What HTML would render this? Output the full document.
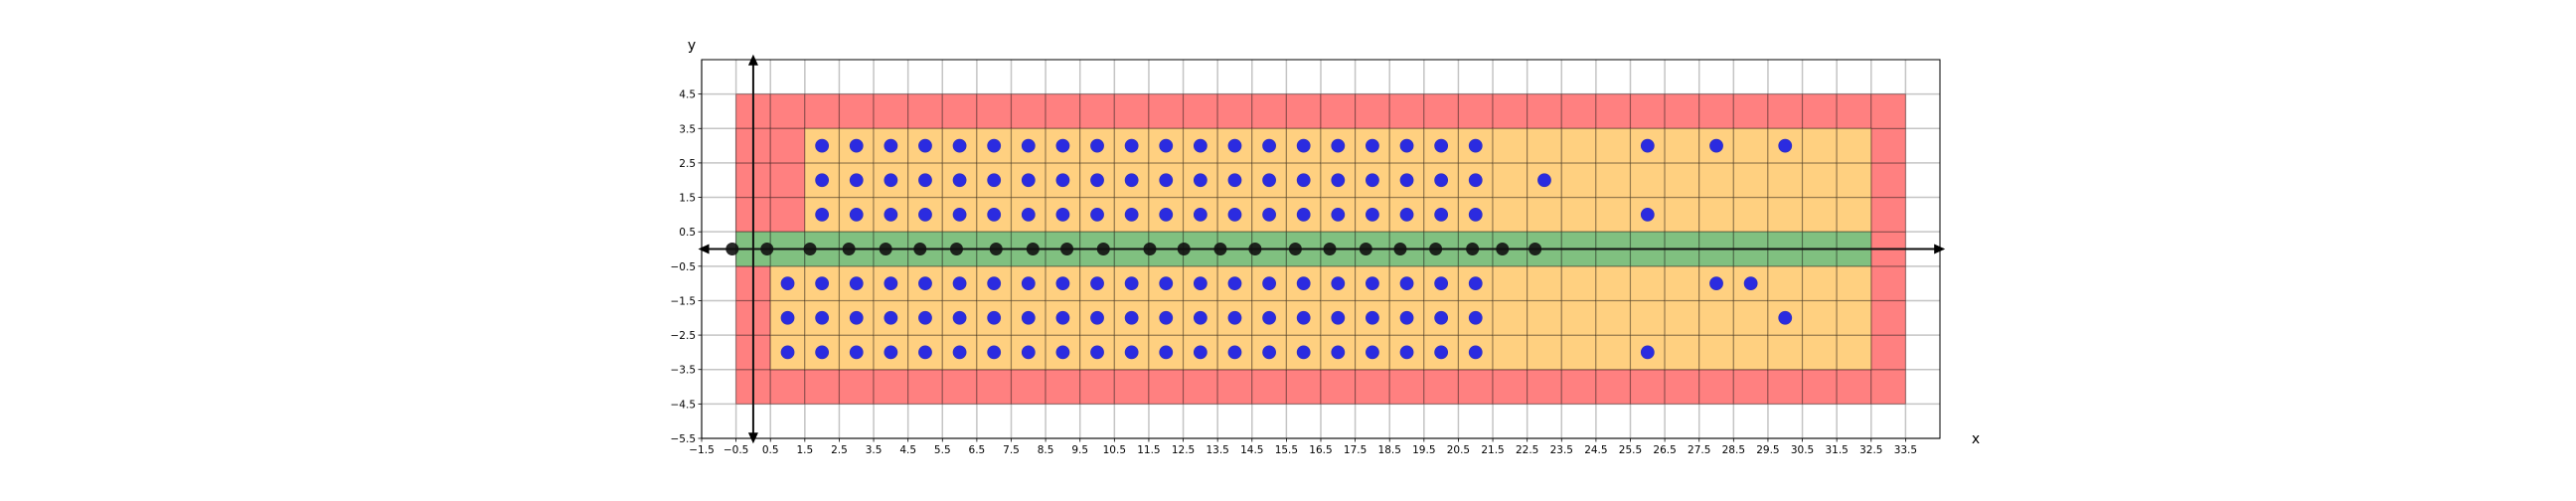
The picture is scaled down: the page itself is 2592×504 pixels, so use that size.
<!DOCTYPE html>
<html><head><meta charset="utf-8"><style>
html,body{margin:0;padding:0;background:#fff;}
svg{display:block;font-family:"DejaVu Sans","Liberation Sans",sans-serif;}
</style></head><body>
<svg id="chart" width="2592" height="504" viewBox="0 0 2592 504" xmlns="http://www.w3.org/2000/svg"></svg>
<script>
const xTicks=[-1.5,-0.5,0.5,1.5,2.5,3.5,4.5,5.5,6.5,7.5,8.5,9.5,10.5,11.5,12.5,13.5,14.5,15.5,16.5,17.5,18.5,19.5,20.5,21.5,22.5,23.5,24.5,25.5,26.5,27.5,28.5,29.5,30.5,31.5,32.5,33.5];
const yTicks=[-5.5,-4.5,-3.5,-2.5,-1.5,-0.5,0.5,1.5,2.5,3.5,4.5];
const regionX0=[-0.5,-0.5,1.5,0.5,-0.5];
const regionX1=[33.5,1.5,32.5,32.5,32.5];
const regionY0=[-4.5,0.5,0.5,-3.5,-0.5];
const regionY1=[4.5,3.5,3.5,-0.5,0.5];
const regionKind=["red","red","orange","orange","green"];
const axisPointsX=[-0.61,0.40,1.65,2.78,3.85,4.85,5.91,7.06,8.13,9.12,10.18,11.53,12.52,13.58,14.59,15.76,16.76,17.81,18.81,19.84,20.91,21.78,22.73];
const extraX=[23,26,28,30,26,28,29,30,26];
const extraY=[2,3,3,3,1,-1,-1,-2,-3];

const X0=706,X1=1952,Y0=60,Y1=441;
const xmin=-1.5,xmax=34.5,ymin=-5.5,ymax=5.5;
const sx=v=>X0+(v-xmin)*(X1-X0)/(xmax-xmin);
const sy=v=>Y1-(v-ymin)*(Y1-Y0)/(ymax-ymin);
const NS="http://www.w3.org/2000/svg";
const svg=document.getElementById('chart');
function mk(tag,attrs,parent){const e=document.createElementNS(NS,tag);for(const k in attrs)e.setAttribute(k,attrs[k]);(parent||svg).appendChild(e);return e;}
const colors={red:"#ff8080",orange:"#ffd080",green:"#80c080"};

const grid=mk('g',{});


xTicks.forEach(t=>mk('line',{x1:sx(t),x2:sx(t),y1:Y0,y2:Y1,stroke:"#c4c4c4","stroke-width":1.5},grid));
yTicks.forEach(t=>mk('line',{x1:X0,x2:X1,y1:sy(t),y2:sy(t),stroke:"#c4c4c4","stroke-width":1.5},grid));

const regs=mk('g',{});


for(let r=0;r<regionX0.length;r++){
  for(let x=regionX0[r];x<regionX1[r]-0.01;x++){
    for(let y=regionY0[r];y<regionY1[r]-0.01;y++){
      const c=mk('rect',{x:sx(x),y:sy(y+1),width:sx(x+1)-sx(x),height:sy(y)-sy(y+1),fill:colors[regionKind[r]],stroke:"rgba(0,0,0,0.3)","stroke-width":1.2},regs);
      
      
    }
  }
}

const fr=mk('rect',{x:X0,y:Y0,width:X1-X0,height:Y1-Y0,fill:"none",stroke:"#000","stroke-width":1});



const ax=mk('g',{});


mk('line',{x1:sx(-1.45),x2:sx(34.6),y1:sy(0),y2:sy(0),stroke:"#111","stroke-width":2},ax);
mk('polygon',{points:`${sx(-1.6)},${sy(0)} ${sx(-1.6)+11},${sy(0)-5} ${sx(-1.6)+11},${sy(0)+5}`,fill:"#000"},ax);
mk('polygon',{points:`${sx(34.65)},${sy(0)} ${sx(34.65)-11},${sy(0)-5} ${sx(34.65)-11},${sy(0)+5}`,fill:"#000"},ax);
mk('line',{x1:sx(0),x2:sx(0),y1:sy(5.55),y2:sy(-5.55),stroke:"#111","stroke-width":2},ax);
mk('polygon',{points:`${sx(0)},${sy(5.65)} ${sx(0)-5},${sy(5.65)+11} ${sx(0)+5},${sy(5.65)+11}`,fill:"#000"},ax);
mk('polygon',{points:`${sx(0)},${sy(-5.65)} ${sx(0)-5},${sy(-5.65)-11} ${sx(0)+5},${sy(-5.65)-11}`,fill:"#000"},ax);

axisPointsX.forEach(v=>{
  const c=mk('circle',{cx:sx(v),cy:sy(0),r:6.5,fill:"#111","fill-opacity":0.9});
  
  
});

function blue(x,y){
  const c=mk('circle',{cx:sx(x),cy:sy(y),r:6.5,fill:"#2b2be0",stroke:"#3030c0","stroke-width":0.8});
  
  
}
for(let x=2;x<=21;x++){[1,2,3].forEach(y=>blue(x,y));}
for(let x=1;x<=21;x++){[-1,-2,-3].forEach(y=>blue(x,y));}
extraX.forEach((x,i)=>blue(x,extraY[i]));

const fmt=v=>(v<0?"\u2212":"")+Math.abs(v).toFixed(1);
xTicks.forEach(t=>{
  mk('line',{x1:sx(t),x2:sx(t),y1:Y1,y2:Y1+3.5,stroke:"#000","stroke-width":0.8});
  const e=mk('text',{x:sx(t),y:Y1+15,"font-size":10.5,"text-anchor":"middle",fill:"#000"});
  e.textContent=fmt(t);
  
  
});
yTicks.forEach(t=>{
  mk('line',{x1:X0-3.5,x2:X0,y1:sy(t),y2:sy(t),stroke:"#000","stroke-width":0.8});
  const e=mk('text',{x:X0-6,y:sy(t)+4,"font-size":10.5,"text-anchor":"end",fill:"#000"});
  e.textContent=fmt(t);
  
  
});
const xl=mk('text',{x:1988,y:446,"font-size":14,"text-anchor":"middle",fill:"#000"});
xl.textContent="x";


const yl=mk('text',{x:696,y:50,"font-size":14,"text-anchor":"middle",fill:"#000"});
yl.textContent="y";


</script>
</body></html>
